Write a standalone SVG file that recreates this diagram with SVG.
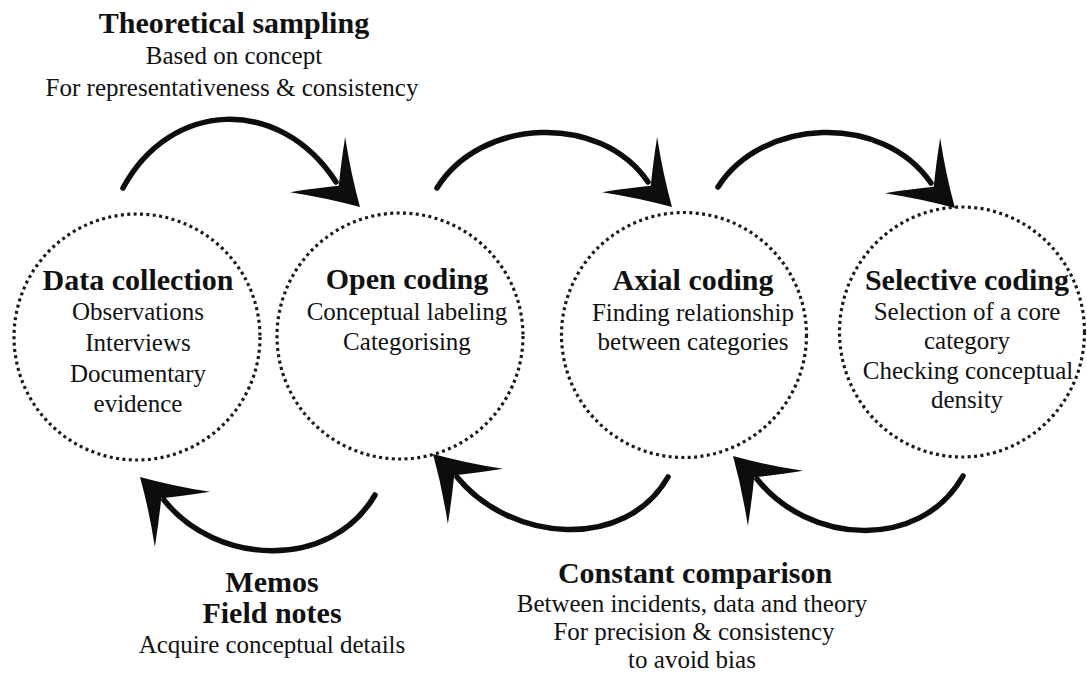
<svg xmlns="http://www.w3.org/2000/svg" width="1087" height="679" viewBox="0 0 1087 679">
<style>
  .node { fill: none; stroke: #1a1a1a; stroke-width: 3.2; stroke-dasharray: 3 3.4; }
  .shaft { fill: none; stroke: #0d0d0d; stroke-width: 5.5; stroke-linecap: round; }
  .head { fill: #0d0d0d; }
  text { font-family: "Liberation Serif", "Times New Roman", serif; fill: #111; text-anchor: middle; }
  .t { font-size: 30px; font-weight: bold; }
  .s { font-size: 25px; }
</style>
<defs>
  <path id="ah" d="M0,0 Q-30,-17 -60,-39 Q-44,-17 -30,0 Q-44,17 -60,39 Q-30,17 0,0 Z"/>
</defs>
<rect width="1087" height="679" fill="#ffffff"/>

<g id="connectors">
  <path class="shaft" d="M123,188 C170,100 280,95 336,182"/>
  <use href="#ah" class="head" transform="translate(360,207) rotate(45)"/>
  <path class="shaft" d="M437,188 C480,118 600,112 648,182"/>
  <use href="#ah" class="head" transform="translate(672,207) rotate(45)"/>
  <path class="shaft" d="M718,187 C762,118 882,112 931,183"/>
  <use href="#ah" class="head" transform="translate(955,208) rotate(45)"/>
  <path class="shaft" d="M375,495 C330,572 215,565 164,500"/>
  <use href="#ah" class="head" transform="translate(140,477) rotate(225)"/>
  <path class="shaft" d="M668,477 C625,552 510,542 457,477"/>
  <use href="#ah" class="head" transform="translate(433,454) rotate(225)"/>
  <path class="shaft" d="M963,476 C920,552 808,544 757,479"/>
  <use href="#ah" class="head" transform="translate(733,456) rotate(225)"/>
</g>

<g id="data-collection">
  <circle class="node" cx="137" cy="337" r="123"/>
  <text class="t" x="138" y="290">Data collection</text>
  <text class="s" x="138" y="320">Observations</text>
  <text class="s" x="138" y="351">Interviews</text>
  <text class="s" x="138" y="382">Documentary</text>
  <text class="s" x="138" y="412">evidence</text>
</g>

<g id="open-coding">
  <circle class="node" cx="400" cy="336" r="123"/>
  <text class="t" x="407" y="289">Open coding</text>
  <text class="s" x="407" y="320">Conceptual labeling</text>
  <text class="s" x="407" y="350">Categorising</text>
</g>

<g id="axial-coding">
  <circle class="node" cx="684" cy="335" r="122.5"/>
  <text class="t" x="693" y="290">Axial coding</text>
  <text class="s" x="693" y="321">Finding relationship</text>
  <text class="s" x="693" y="350">between categories</text>
</g>

<g id="selective-coding">
  <ellipse class="node" cx="962" cy="332" rx="122.5" ry="125"/>
  <text class="t" x="967" y="290">Selective coding</text>
  <text class="s" x="967" y="320">Selection of a core</text>
  <text class="s" x="967" y="349">category</text>
  <text class="s" x="968" y="379">Checking conceptual</text>
  <text class="s" x="967" y="408">density</text>
</g>

<g id="theoretical-sampling">
  <text class="t" x="234" y="33">Theoretical sampling</text>
  <text class="s" x="234" y="64">Based on concept</text>
  <text class="s" x="232" y="96">For representativeness &amp; consistency</text>
</g>

<g id="memos">
  <text class="t" x="272" y="592">Memos</text>
  <text class="t" x="272" y="623">Field notes</text>
  <text class="s" x="272" y="653">Acquire conceptual details</text>
</g>

<g id="constant-comparison">
  <text class="t" x="695" y="583">Constant comparison</text>
  <text class="s" x="692" y="612">Between incidents, data and theory</text>
  <text class="s" x="694" y="640">For precision &amp; consistency</text>
  <text class="s" x="692" y="668">to avoid bias</text>
</g>
</svg>
